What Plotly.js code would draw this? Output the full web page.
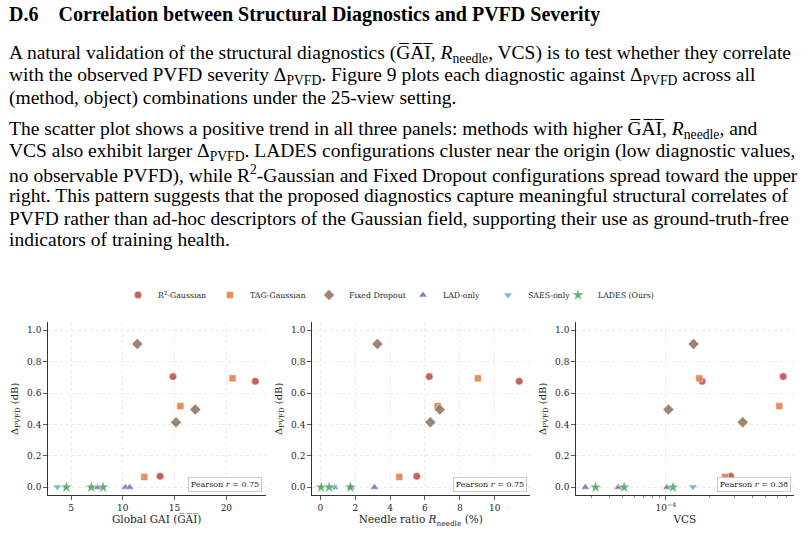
<!DOCTYPE html>
<html>
<head>
<meta charset="utf-8">
<script src="https://cdn.plot.ly/plotly-3.0.1.min.js"></script>
<style>
html,body{margin:0;padding:0;background:#fff;}
#chart{width:807px;height:554px;}
</style>
</head>
<body>
<div id="chart"></div>
<script>
// ---------- data ----------
const methodNames = ["R<sup>2</sup>-Gaussian", "TAG-Gaussian", "Fixed Dropout", "LAD-only", "SAES-only", "LADES (Ours)"];

const r2Delta = [0.705, 0.675, 0.07];
const r2Gai = [14.85, 22.8, 13.6];
const r2Needle = [6.25, 11.41, 5.53];
const r2Vcs = [6.6e-4, 1.79e-4, 2.83e-4];

const tagDelta = [0.694, 0.517, 0.066];
const tagGai = [20.6, 15.56, 12.08];
const tagNeedle = [9.04, 6.73, 4.53];
const tagVcs = [1.71e-4, 6.2e-4, 2.59e-4];

const fdDelta = [0.913, 0.495, 0.414];
const fdGai = [11.4, 17.0, 15.14];
const fdNeedle = [3.27, 6.85, 6.31];
const fdVcs = [1.56e-4, 1.04e-4, 3.44e-4];

const ladDelta = [0, 0, 0];
const ladGai = [7.54, 10.25, 10.67];
const ladNeedle = [0.8, 1.75, 3.1];
const ladVcs = [2.73e-5, 4.64e-5, 1.016e-4];

const saesDelta = [0.003];
const saesGai = [3.68];
const saesNeedle = [0.78];
const saesVcs = [1.545e-4];

const ladesDelta = [0, 0, 0];
const ladesGai = [4.55, 6.96, 8.1];
const ladesNeedle = [0.04, 0.5, 1.72];
const ladesVcs = [3.22e-5, 5.1e-5, 1.12e-4];

const pearsonR = ["0.75", "0.75", "0.38"];
const yTicks = [0, 0.2, 0.4, 0.6, 0.8, 1.0];
const xTicks1 = [5, 10, 15, 20];
const xTicks2 = [0, 2, 4, 6, 8, 10];
const xTicks3 = [1e-4];
const xTickText3 = ["10<sup>\u22124</sup>"];

// ---------- styling ----------
const colors = ["#c44e52", "#dd8452", "#937860", "#8172b3", "#64b5cd", "#55a868"];
const symbols = ["circle", "square", "diamond", "triangle-up", "triangle-down", "star"];
const sizes = [7.5, 7, 8.5, 7.5, 7.5, 9];
const legendMarkerX = [142, 234, 333, 427, 512, 582];
const serif = "DejaVu Serif";
const textFont = "Liberation Serif";

const groups = [
  [r2Delta, r2Gai, r2Needle, r2Vcs],
  [tagDelta, tagGai, tagNeedle, tagVcs],
  [fdDelta, fdGai, fdNeedle, fdVcs],
  [ladDelta, ladGai, ladNeedle, ladVcs],
  [saesDelta, saesGai, saesNeedle, saesVcs],
  [ladesDelta, ladesGai, ladesNeedle, ladesVcs]
];

const W = 807, H = 554;

const traces = [];
for (let p = 0; p < 3; p++) {
  groups.forEach((g, i) => {
    traces.push({
      type: "scatter", mode: "markers",
      x: g[p + 1], y: g[0],
      xaxis: p === 0 ? "x" : "x" + (p + 1),
      yaxis: p === 0 ? "y" : "y" + (p + 1),
      name: methodNames[i],
      legend: i === 0 ? "legend" : "legend" + (i + 1),
      legendgroup: "m" + i,
      showlegend: p === 0,
      marker: {symbol: symbols[i], color: colors[i], size: sizes[i], opacity: 0.9,
               line: {color: "#ffffff", width: 0.5}}
    });
  });
}

const yDom = [1 - 495.3 / H, 1 - 322.3 / H];
const axisCommon = {
  showline: true, linecolor: "#333333", linewidth: 1,
  ticks: "outside", ticklen: 3.5, tickwidth: 0.8, tickcolor: "#333333",
  showgrid: true, gridcolor: "#e3e3e3", griddash: "dot", gridwidth: 0.8,
  zeroline: false, mirror: false,
  tickfont: {family: serif, size: 9, color: "#262626"}
};
function yAxis(anchor) {
  return Object.assign({}, axisCommon, {
    domain: yDom, range: [-0.051, 1.051], tickmode: "array", tickvals: yTicks,
    tickformat: ".1f", anchor: anchor,
    title: {text: "\u0394<sub>PVFD</sub> (dB)", font: {family: serif, size: 10, color: "#262626"}, standoff: 6}
  });
}
const xTitleFont = {family: serif, size: 10.5, color: "#262626"};

const layout = {
  width: W, height: H,
  margin: {l: 0, r: 0, t: 0, b: 0},
  paper_bgcolor: "#ffffff", plot_bgcolor: "#ffffff",
  showlegend: true,
  xaxis: Object.assign({}, axisCommon, {
    domain: [47.7 / W, 265.7 / W], range: [2.75, 23.8], tickmode: "array", tickvals: xTicks1, anchor: "y",
    title: {text: "Global GAI (G\u0305A\u0305I\u0305)", font: xTitleFont, standoff: 4}
  }),
  xaxis2: Object.assign({}, axisCommon, {
    domain: [311.7 / W, 530 / W], range: [-0.5, 12.03], tickmode: "array", tickvals: xTicks2, anchor: "y2",
    title: {text: "Needle ratio <i>R</i><sub>needle</sub> (%)", font: xTitleFont, standoff: 4}
  }),
  xaxis3: Object.assign({}, axisCommon, {
    domain: [575.7 / W, 794 / W], type: "log", range: [-4.631, -3.105], tickmode: "array",
    tickvals: xTicks3, ticktext: xTickText3, anchor: "y3",
    minor: {tickmode: "array",
            tickvals: [2e-5, 3e-5, 4e-5, 5e-5, 6e-5, 7e-5, 8e-5, 9e-5, 2e-4, 3e-4, 4e-4, 5e-4, 6e-4, 7e-4, 8e-4, 9e-4],
            ticks: "outside", ticklen: 2, tickwidth: 0.6, tickcolor: "#333333", showgrid: false},
    title: {text: "VCS", font: xTitleFont, standoff: 4}
  }),
  yaxis: yAxis("x"),
  yaxis2: yAxis("x2"),
  yaxis3: yAxis("x3"),
  annotations: []
};

// one small legend per method, placed where the reference puts each entry
legendMarkerX.forEach((mx, i) => {
  const key = i === 0 ? "legend" : "legend" + (i + 1);
  layout[key] = {
    orientation: "h", x: (mx - 24) / W, xanchor: "left", y: 1 - 295 / H, yanchor: "middle",
    font: {family: serif, size: 7.8, color: "#262626"}, itemwidth: 30,
    bgcolor: "rgba(0,0,0,0)", borderwidth: 0
  };
});

// Pearson boxes
["x", "x2", "x3"].forEach((xa, i) => {
  const ya = i === 0 ? "y" : "y" + (i + 1);
  layout.annotations.push({
    xref: xa + " domain", yref: ya + " domain", x: 0.985, y: 0.02,
    xanchor: "right", yanchor: "bottom", showarrow: false,
    text: "Pearson <i>r</i> = " + pearsonR[i],
    font: {family: serif, size: 8, color: "#262626"},
    bgcolor: "#ffffff", bordercolor: "#bdbdbd", borderwidth: 0.8, borderpad: 2
  });
});

// Page text
const GAI = "G\u0305A\u0305I\u0305";
const headText = "<b>D.6\u00a0\u00a0\u00a0\u00a0Correlation between Structural Diagnostics and PVFD Severity</b>";
const bodyLines = [
  "A natural validation of the structural diagnostics (" + GAI + ", <i>R</i><sub>needle</sub>, VCS) is to test whether they correlate",
  "with the observed PVFD severity \u0394<sub>PVFD</sub>. Figure 9 plots each diagnostic against \u0394<sub>PVFD</sub> across all",
  "(method, object) combinations under the 25-view setting.",
  "The scatter plot shows a positive trend in all three panels: methods with higher " + GAI + ", <i>R</i><sub>needle</sub>, and",
  "VCS also exhibit larger \u0394<sub>PVFD</sub>. LADES configurations cluster near the origin (low diagnostic values,",
  "no observable PVFD), while R<sup>2</sup>-Gaussian and Fixed Dropout configurations spread toward the upper",
  "right. This pattern suggests that the proposed diagnostics capture meaningful structural correlates of",
  "PVFD rather than ad-hoc descriptors of the Gaussian field, supporting their use as ground-truth-free",
  "indicators of training health."
];
const bodyY = [54, 76, 98, 130, 152, 174, 196, 218, 240];

layout.annotations.push({
  xref: "paper", yref: "paper", x: 7 / W, y: 1 - 14 / H, xanchor: "left", yanchor: "middle",
  showarrow: false, text: headText, font: {family: textFont, size: 20, color: "#000000"}
});
bodyLines.forEach((t, i) => {
  layout.annotations.push({
    xref: "paper", yref: "paper", x: 7 / W, y: 1 - bodyY[i] / H, xanchor: "left", yanchor: "middle",
    showarrow: false, text: t, font: {family: textFont, size: 19.5, color: "#000000"}
  });
});

Plotly.newPlot("chart", traces, layout, {displayModeBar: false, staticPlot: true});
</script>
</body>
</html>
